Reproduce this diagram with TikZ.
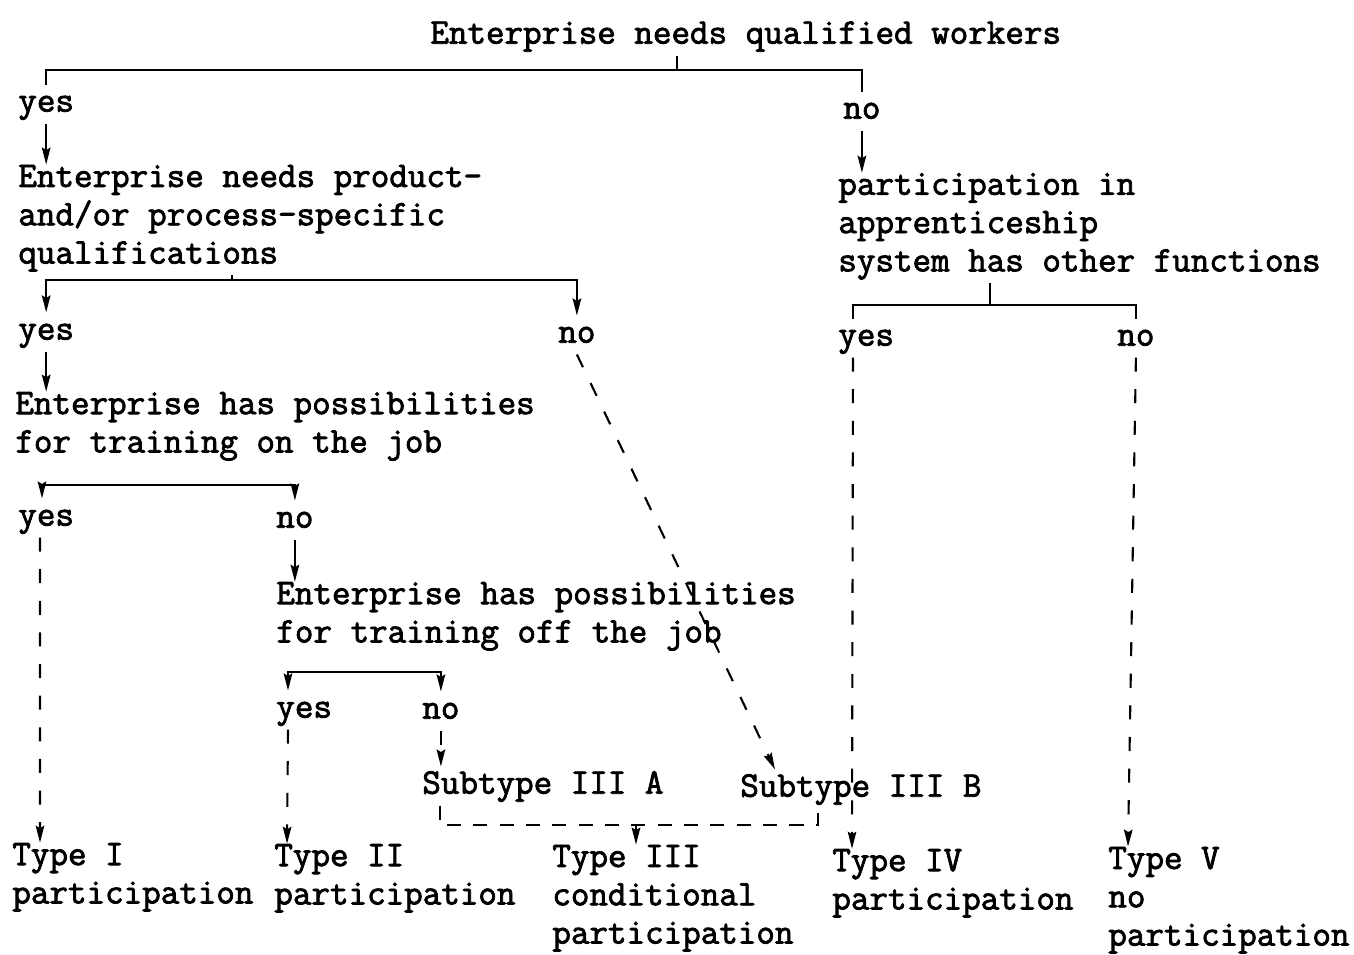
\documentclass[tikz,border=0pt]{standalone}
\usepackage{fontspec}
\setmonofont{Latin Modern Mono}[BoldFont={Latin Modern Mono}, BoldFeatures={FakeBold=2.2}]
\usetikzlibrary{arrows.meta}

\begin{document}
\begin{tikzpicture}[
    x=0.02cm, y=-0.02cm,
    % Define styles for consistent formatting
    txt/.style={anchor=west, align=left, inner sep=0pt, yshift=-0.08cm,
        font=\ttfamily\bfseries\fontsize{20.5}{21.8}\selectfont,
        execute at begin node=\strut, execute at end node=\strut},
    solidlink/.style={line width=1.3pt},
    arrowlink/.style={line width=1.3pt, -{Stealth[length=3.4mm,width=1.7mm,inset=0.5mm]}},
    dashlink/.style={line width=1.2pt, dash pattern=on 8pt off 10pt,
        -{Stealth[length=3.4mm,width=1.7mm,inset=0.5mm]}},
    dashplain/.style={line width=1.2pt, dash pattern=on 8pt off 7pt}
]

% Levels of the horizontal branch lines
\newcommand{\levelA}{70}
\newcommand{\levelB}{280}
\newcommand{\levelC}{485}
\newcommand{\levelD}{672}
\newcommand{\levelE}{825}
\newcommand{\levelF}{305}

\useasboundingbox (0,0) rectangle (1354,954);

% Questions
\node[txt] (title) at (430,32) {Enterprise needs qualified workers};
\node[txt] (needB) at (18,216) {Enterprise needs product-\\and/or process-specific\\qualifications};
\node[txt] (otherF) at (838,224) {participation in\\apprenticeship\\system has other functions};
\node[txt] (onjob) at (15,424) {Enterprise has possibilities\\for training on the job};
\node[txt] (offjob) at (276,614) {Enterprise has possibilities\\for training off the job};

% Answers
\node[txt] (yesA) at (18,100) {yes};
\node[txt] (noA) at (843,107) {no};
\node[txt] (yesB) at (18,328) {yes};
\node[txt] (noB) at (558,331) {no};
\node[txt] (yesF) at (838,334) {yes};
\node[txt] (noF) at (1117,334) {no};
\node[txt] (yesC) at (18,514) {yes};
\node[txt] (noC) at (276,516) {no};
\node[txt] (yesD) at (276,706) {yes};
\node[txt] (noD) at (422,707) {no};

% Subtypes and types
\node[txt] (subA) at (422,782) {Subtype III A};
\node[txt] (subB) at (740,785) {Subtype III B};
\node[txt] (typeI) at (12,875) {Type I\\participation};
\node[txt] (typeII) at (274,876) {Type II\\participation};
\node[txt] (typeIII) at (552,896) {Type III\\conditional\\participation};
\node[txt] (typeIV) at (832,881) {Type IV\\participation};
\node[txt] (typeV) at (1108,898) {Type V\\no\\participation};

% First branch
\coordinate (jA) at (677,\levelA);
\draw[solidlink] (title.south -| jA) -- (jA);
\draw[solidlink] (yesA.north) |- (jA) -| (noA.north);
\draw[arrowlink] (yesA.south) -- (yesA.south |- needB.north);
\draw[arrowlink] (noA.south) -- (noA.south |- otherF.north);

% Product- or process-specific qualifications
\coordinate (jB) at (232,\levelB);
\draw[solidlink] (needB.south -| jB) -- (jB);
\draw[arrowlink] (jB) -| (yesB.north);
\draw[arrowlink] (jB) -| (noB.north);
\draw[arrowlink] (yesB.south) -- (yesB.south |- onjob.north);
\draw[dashlink] (noB.south) -- ([xshift=0.7cm]subB.north west);

% Training on the job
\coordinate (jC) at (160,\levelC);
\draw[arrowlink] (jC) -| ([xshift=0.48cm]yesC.north west);
\draw[arrowlink] (jC) -| (noC.north);
\draw[dashlink] ([xshift=0.44cm]yesC.south west) -- ([xshift=0.56cm]typeI.north west);
\draw[arrowlink] (noC.south) -- (noC.south |- offjob.north);

% Training off the job
\coordinate (jD) at (360,\levelD);
\draw[arrowlink] (jD) -| ([xshift=0.24cm]yesD.north west);
\draw[arrowlink] (jD) -| (noD.north);
\draw[dashlink] ([xshift=0.24cm]yesD.south west) -- ([xshift=0.26cm]typeII.north west);
\draw[dashlink] (noD.south) -- (noD.south |- subA.north);

% Subtypes joined into type III
\coordinate (jE) at (636,\levelE);
\draw[dashplain] ([xshift=0.36cm]subA.south west) |- (jE) -| ([xshift=1.56cm]subB.south west);
\draw[arrowlink] (jE) -- (jE |- typeIII.north);

% Other functions
\coordinate (jF) at (990,\levelF);
\draw[solidlink] (otherF.south -| jF) -- (jF);
\draw[solidlink] (jF) -| ([xshift=0.3cm]yesF.north west);
\draw[solidlink] (jF) -| (noF.north);
\draw[dashlink] ([xshift=0.3cm]yesF.south west) -- ([xshift=0.4cm]typeIV.north west);
\draw[dashlink] (noF.south) -- ([xshift=0.4cm]typeV.north west);

\end{tikzpicture}
\end{document}
